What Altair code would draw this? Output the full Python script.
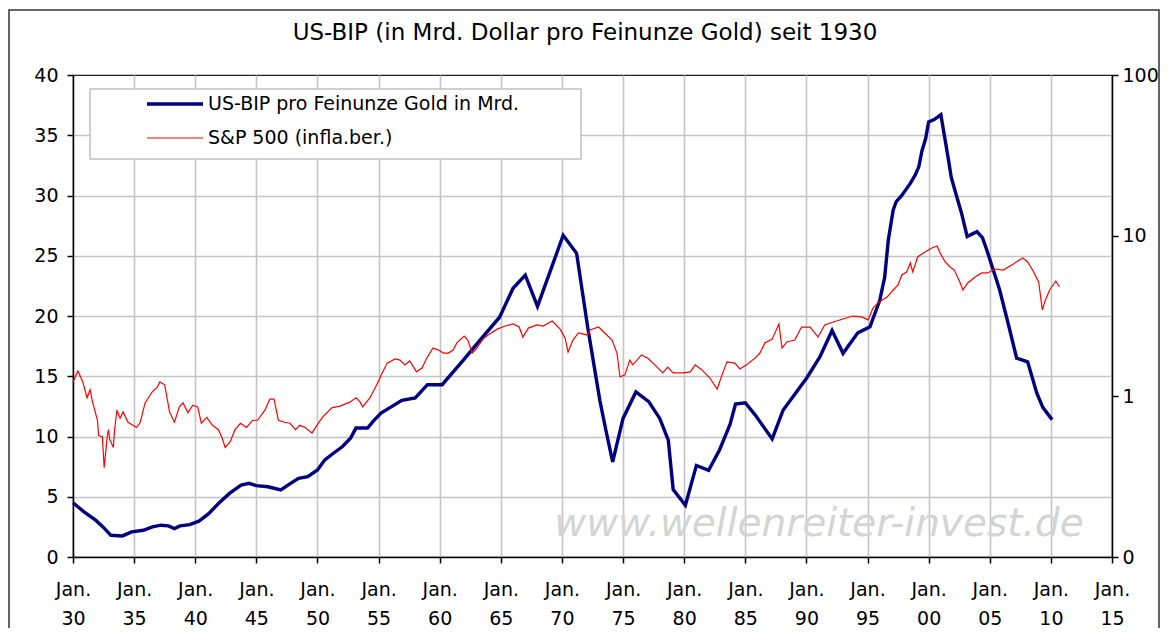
import altair as alt
import pandas as pd

title_text = "US-BIP (in Mrd. Dollar pro Feinunze Gold) seit 1930"
series_names = ["US-BIP pro Feinunze Gold in Mrd.", "S&P 500 (infla.ber.)"]
series_colors = ["#000080", "#ff0000"]
watermark_text = "www.wellenreiter-invest.de"

# US-BIP pro Feinunze Gold (left axis, linear)
gdp_years = [1930.0, 1930.9, 1931.85, 1932.45, 1933.1, 1934.05, 1934.8, 1935.75, 1936.5, 1937.2,
             1937.8, 1938.3, 1938.75, 1939.55, 1940.3, 1941.1, 1941.9, 1942.8, 1943.75, 1944.4,
             1945.0, 1945.95, 1947.0, 1947.8, 1948.45, 1949.2, 1950.0, 1950.6, 1951.3, 1952.05,
             1952.7, 1953.15, 1954.1, 1954.55, 1955.2, 1956.1, 1956.9, 1958.0, 1959.0, 1960.2,
             1961.9, 1963.3, 1964.9, 1966.0, 1967.0, 1968.0, 1969.0, 1970.1, 1971.2, 1972.1,
             1973.1, 1973.6, 1974.15, 1975.0, 1976.05, 1977.1, 1978.0, 1978.7, 1979.1, 1980.1,
             1981.0, 1982.0, 1982.9, 1983.75, 1984.2, 1985.0, 1985.8, 1987.2, 1988.1, 1988.9,
             1990.05, 1991.1, 1992.1, 1993.0, 1994.2, 1995.2, 1996.0, 1996.4, 1996.7, 1997.1,
             1997.35, 1997.8, 1998.5, 1998.9, 1999.2, 1999.45, 1999.75, 2000.0, 2000.45, 2001.0,
             2001.3, 2001.6, 2001.85, 2002.3, 2002.7, 2003.15, 2003.95, 2004.4, 2004.75, 2005.8,
             2006.5, 2007.2, 2008.1, 2008.85, 2009.35, 2010.1]
gdp_values = [4.5, 3.75, 3.06, 2.5, 1.8, 1.75, 2.08, 2.22, 2.5, 2.64,
              2.58, 2.36, 2.58, 2.69, 2.97, 3.6, 4.44, 5.28, 5.97, 6.11,
              5.92, 5.83, 5.56, 6.11, 6.53, 6.67, 7.22, 8.06, 8.61, 9.17,
              9.86, 10.7, 10.7, 11.25, 11.94, 12.5, 13.0, 13.2, 14.3, 14.3,
              16.3, 18.0, 19.9, 22.3, 23.4, 20.8, 23.6, 26.7, 25.2, 19.1,
              13.0, 10.5, 7.9, 11.5, 13.7, 12.9, 11.5, 9.7, 5.6, 4.3,
              7.6, 7.2, 8.9, 11.0, 12.7, 12.8, 11.8, 9.8, 12.2, 13.3,
              14.9, 16.6, 18.8, 16.9, 18.6, 19.1, 21.3, 23.2, 26.3, 28.8,
              29.5, 30.0, 31.0, 31.7, 32.4, 33.7, 34.7, 36.1, 36.3, 36.7,
              34.9, 33.1, 31.5, 29.9, 28.5, 26.6, 27.0, 26.5, 25.5, 22.2,
              19.4, 16.5, 16.2, 13.6, 12.4, 11.4]

# S&P 500 inflationsbereinigt (right axis, logarithmic)
spx_years = [1930.0, 1930.4, 1930.8, 1931.15, 1931.4, 1931.6, 1932.0, 1932.1, 1932.4, 1932.55,
             1932.8, 1932.9, 1933.0, 1933.3, 1933.4, 1933.6, 1933.85, 1934.1, 1934.5, 1934.9,
             1935.2, 1935.5, 1935.9, 1936.45, 1936.9, 1937.1, 1937.5, 1937.9, 1938.3, 1938.7,
             1939.0, 1939.4, 1939.8, 1940.2, 1940.5, 1940.95, 1941.4, 1941.9, 1942.2, 1942.45,
             1942.85, 1943.25, 1943.7, 1944.2, 1944.7, 1945.1, 1945.7, 1946.1, 1946.45, 1946.8,
             1947.3, 1947.75, 1948.2, 1948.55, 1949.0, 1949.55, 1949.95, 1950.4, 1951.2, 1951.85,
             1952.65, 1953.15, 1953.5, 1953.7, 1954.3, 1954.85, 1955.3, 1955.7, 1956.35, 1956.75,
             1957.15, 1957.55, 1958.1, 1958.55, 1958.95, 1959.45, 1959.9, 1960.3, 1960.7, 1961.1,
             1961.4, 1962.0, 1962.3, 1962.65, 1962.9, 1963.55, 1963.95, 1964.7, 1965.35, 1966.0,
             1966.5, 1966.8, 1967.25, 1967.95, 1968.45, 1969.2, 1969.85, 1970.25, 1970.5, 1970.9,
             1971.35, 1972.05, 1972.3, 1973.0, 1973.5, 1974.1, 1974.5, 1974.75, 1975.15, 1975.55,
             1975.8, 1976.5, 1977.0, 1977.6, 1978.25, 1978.65, 1979.1, 1979.9, 1980.5, 1980.9,
             1981.45, 1982.1, 1982.7, 1983.1, 1983.5, 1984.15, 1984.55, 1985.1, 1985.8, 1986.2,
             1986.6, 1987.2, 1987.75, 1988.0, 1988.4, 1989.05, 1989.6, 1990.3, 1990.95, 1991.5,
             1992.2, 1993.0, 1993.8, 1994.5, 1995.05, 1995.45, 1995.95, 1996.6, 1997.1, 1997.5,
             1997.8, 1998.2, 1998.5, 1998.7, 1999.1, 1999.7, 2000.25, 2000.7, 2000.9, 2001.35,
             2001.75, 2002.1, 2002.55, 2002.8, 2003.2, 2003.8, 2004.35, 2004.85, 2005.4, 2006.1,
             2006.8, 2007.3, 2007.7, 2008.1, 2008.5, 2009.0, 2009.3, 2009.55, 2009.9, 2010.4,
             2010.7]
spx_values = [1.23, 1.44, 1.23, 0.98, 1.10, 0.92, 0.71, 0.57, 0.56, 0.36,
              0.56, 0.62, 0.54, 0.48, 0.62, 0.82, 0.73, 0.80, 0.69, 0.66,
              0.64, 0.69, 0.91, 1.06, 1.14, 1.23, 1.18, 0.80, 0.69, 0.86,
              0.91, 0.79, 0.88, 0.86, 0.68, 0.74, 0.66, 0.62, 0.55, 0.48,
              0.52, 0.62, 0.68, 0.64, 0.71, 0.71, 0.82, 0.96, 0.96, 0.71,
              0.69, 0.68, 0.62, 0.66, 0.64, 0.59, 0.66, 0.74, 0.85, 0.87,
              0.92, 0.98, 0.92, 0.86, 0.98, 1.18, 1.40, 1.61, 1.71, 1.68,
              1.57, 1.66, 1.42, 1.50, 1.73, 2.00, 1.94, 1.86, 1.86, 1.94,
              2.15, 2.37, 2.24, 1.86, 1.94, 2.27, 2.41, 2.62, 2.74, 2.82,
              2.70, 2.34, 2.66, 2.78, 2.74, 2.94, 2.62, 2.31, 1.89, 2.24,
              2.48, 2.41, 2.59, 2.70, 2.48, 2.24, 1.86, 1.32, 1.36, 1.68,
              1.57, 1.81, 1.73, 1.57, 1.40, 1.52, 1.40, 1.40, 1.42, 1.57,
              1.46, 1.30, 1.11, 1.36, 1.64, 1.61, 1.48, 1.57, 1.73, 1.86,
              2.15, 2.27, 2.82, 2.00, 2.18, 2.24, 2.70, 2.70, 2.34, 2.78,
              2.90, 3.03, 3.16, 3.12, 2.99, 3.55, 3.87, 4.15, 4.59, 4.93,
              5.69, 5.94, 6.76, 5.94, 7.37, 7.91, 8.38, 8.63, 7.91, 6.86,
              6.38, 6.11, 5.15, 4.59, 5.08, 5.53, 5.86, 5.86, 6.20, 6.11,
              6.57, 6.96, 7.26, 6.86, 6.11, 5.15, 3.45, 3.98, 4.59, 5.22,
              4.79]

x_ticks = list(range(1930, 2016, 5))
left_ticks = list(range(0, 41, 5))
right_ticks = [0.1, 1, 10, 100]
legend_rows = [0, 1]

FONT = "DejaVu Sans"
GRID = "#c4c4c4"

gdp_df = pd.DataFrame({"year": gdp_years, "value": gdp_values})
spx_df = pd.DataFrame({"year": spx_years, "value": spx_values})
legend_df = pd.DataFrame({"name": series_names, "row": legend_rows})
one_row = pd.DataFrame({"k": [0]})

x_enc = alt.X(
    "year:Q",
    scale=alt.Scale(domain=[1930, 2015], nice=False, zero=False),
    axis=alt.Axis(
        values=x_ticks,
        title=None,
        labelExpr="['Jan.', substring(toString(datum.value), 2, 4)]",
        labelLineHeight=29,
        labelPadding=17,
        labelAngle=0,
        labelFlush=False,
        labelOverlap=False,
        tickSize=6,
        grid=True,
        gridColor={"condition": {"test": "datum.value == 1930 || datum.value == 2015",
                                 "value": "transparent"}, "value": GRID},
        gridWidth=1.6,
    ),
)

gdp_line = alt.Chart(gdp_df).mark_line(color=series_colors[0], strokeWidth=3.4).encode(
    x=x_enc,
    y=alt.Y(
        "value:Q",
        scale=alt.Scale(domain=[0, 40], nice=False, zero=True),
        axis=alt.Axis(
            orient="left",
            values=left_ticks,
            title=None,
            tickSize=6,
            labelPadding=9,
            grid=True,
            gridColor={"condition": {"test": "datum.value == 0 || datum.value == 40",
                                     "value": "transparent"}, "value": GRID},
            gridWidth=1.6,
        ),
    ),
)

spx_line = alt.Chart(spx_df).mark_line(color=series_colors[1], strokeWidth=1.2).encode(
    x=x_enc,
    y=alt.Y(
        "value:Q",
        scale=alt.Scale(type="log", domain=[0.1, 100], nice=False),
        axis=alt.Axis(
            orient="right",
            values=right_ticks,
            title=None,
            tickSize=6,
            labelPadding=4,
            grid=False,
            labelExpr="datum.value < 0.5 ? '0' : format(datum.value, 'd')",
        ),
    ),
)

frame = alt.Chart(one_row).mark_rect(fillOpacity=0, stroke="#333333", strokeWidth=1.5).encode(
    x=alt.value(-64), x2=alt.value(1086), y=alt.value(-65), y2=alt.value(640)
)

title_mark = alt.Chart(one_row).mark_text(
    text=title_text, font=FONT, fontSize=23, color="#000",
    align="center", baseline="alphabetic",
).encode(x=alt.value(512), y=alt.value(-35))

watermark = alt.Chart(one_row).mark_text(
    text=watermark_text, font=FONT, fontStyle="italic", fontSize=39,
    color="#d4d4d4", align="center", baseline="alphabetic",
).encode(x=alt.value(746), y=alt.value(461))

legend_box = alt.Chart(one_row).mark_rect(fill="white", stroke="#c0c0c0", strokeWidth=1.5).encode(
    x=alt.value(17), x2=alt.value(508), y=alt.value(14), y2=alt.value(84)
)

legend_scale = alt.Scale(domain=[0, 1], range=[29, 63])
legend_lines = alt.Chart(legend_df).mark_rule().encode(
    x=alt.value(74), x2=alt.value(130),
    y=alt.Y("row:Q", scale=legend_scale, axis=None),
    color=alt.Color("name:N", scale=alt.Scale(domain=series_names, range=series_colors), legend=None),
    strokeWidth=alt.StrokeWidth("name:N", scale=alt.Scale(domain=series_names, range=[3.4, 1.2]), legend=None),
)
legend_text = alt.Chart(legend_df).mark_text(
    align="left", baseline="middle", font=FONT, fontSize=19, color="#000"
).encode(
    x=alt.value(135),
    y=alt.Y("row:Q", scale=legend_scale, axis=None),
    text="name:N",
)

chart = alt.layer(
    frame, title_mark, watermark, gdp_line, spx_line, legend_box, legend_lines, legend_text
).resolve_scale(
    y="independent"
).properties(
    width=1039,
    height=482,
    autosize=alt.AutoSizeParams(type="none"),
    padding={"left": 65, "top": 67, "right": 48, "bottom": 71},
).configure_view(
    stroke="#222222", strokeWidth=1.2
).configure_axis(
    labelFont=FONT, labelFontSize=19, labelColor="#000",
    domainColor="#000", domainWidth=1.5, tickColor="#000", tickWidth=1.5,
)

chart.save("out.html", embed_options={"renderer": "svg", "actions": False})
